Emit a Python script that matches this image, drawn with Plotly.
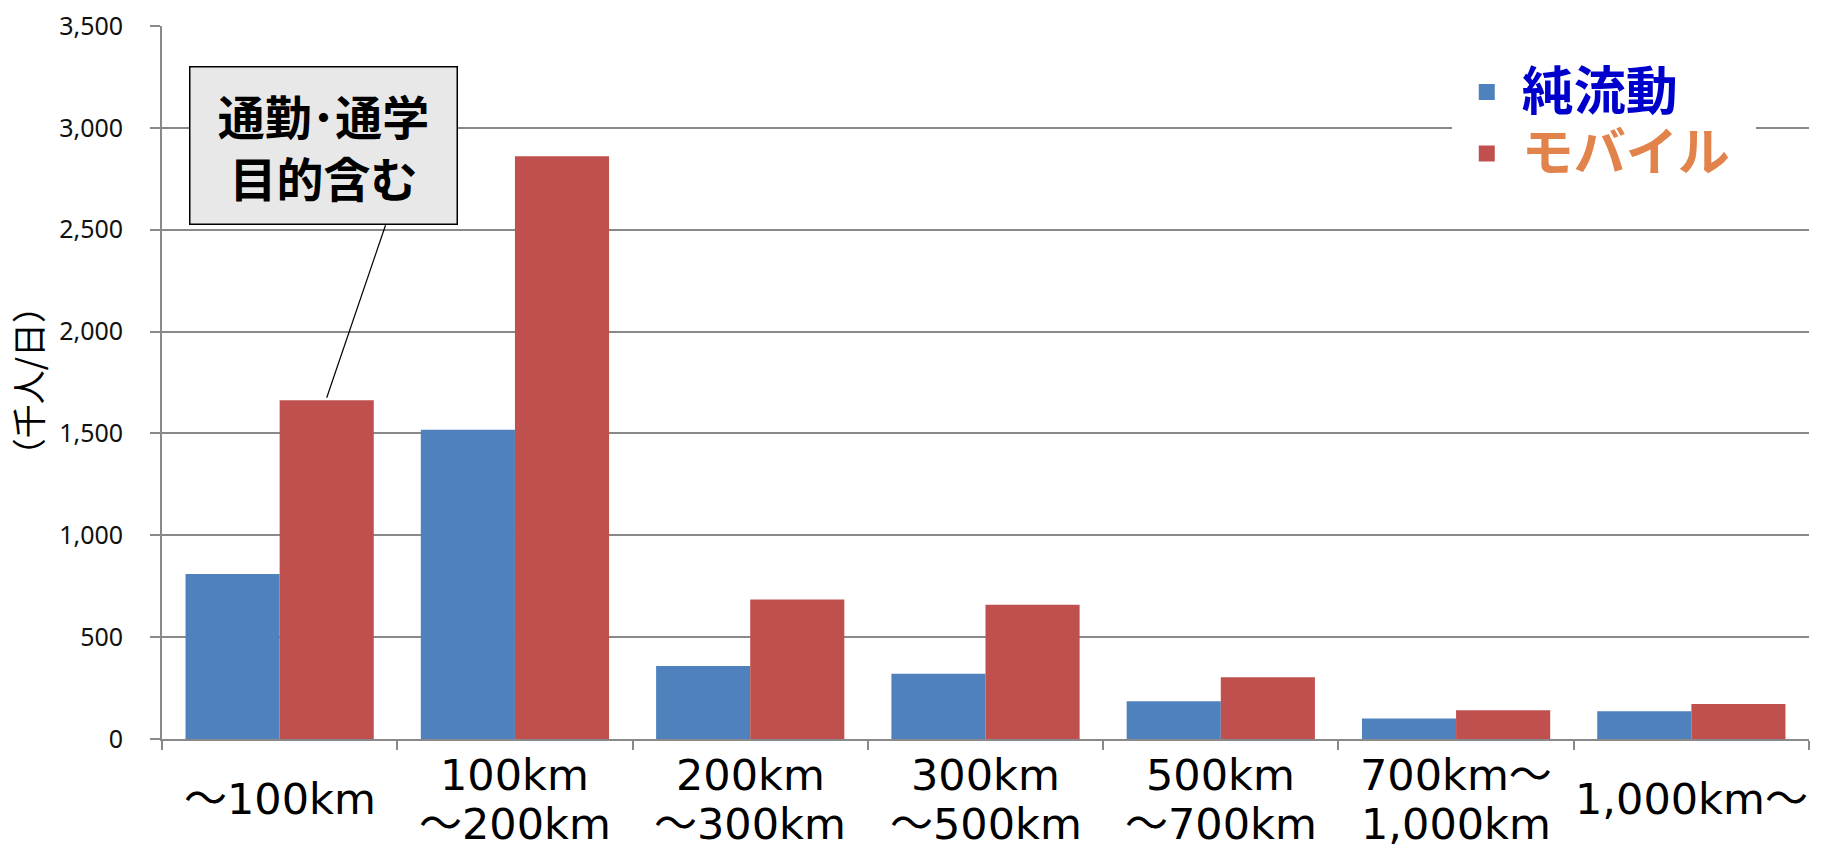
import plotly.graph_objects as go

# Daily trips by distance band (thousand persons / day)
categories = ["～100km", "100km\n～200km", "200km\n～300km", "300km\n～500km",
              "500km\n～700km", "700km～\n1,000km", "1,000km～"]
net_flow = [810, 1518, 358, 320, 185, 101, 136]      # 純流動
mobile = [1663, 2861, 685, 659, 303, 141, 172]       # モバイル
series_names = ["純流動", "モバイル"]
y_ticks = [0, 500, 1000, 1500, 2000, 2500, 3000, 3500]
y_title = "（千人/日）"
callout_text = "通勤･通学\n目的含む"

BLUE = "#4F81BD"
RED = "#C0504D"
BLUE_TEXT = "#0000CC"
ORANGE_TEXT = "#E1834B"
GRID = "#898989"
JP = "Noto Sans CJK JP"
LATIN = "Noto Sans, Noto Sans CJK JP"
LABEL_FONT = "DejaVu Sans, Noto Sans CJK JP"
LABEL_LINE_PITCH = 49  # px between lines of a category label

fig = go.Figure()

fig.add_trace(go.Bar(x=categories, y=net_flow, name=series_names[0],
                     marker=dict(color=BLUE, line=dict(width=0)),
                     showlegend=False))
fig.add_trace(go.Bar(x=categories, y=mobile, name=series_names[1],
                     marker=dict(color=RED, line=dict(width=0)),
                     showlegend=False))

# legend entries with larger square swatches and coloured labels
pad = "&nbsp;" * 2
for name, swatch, txt in [(series_names[0], BLUE, BLUE_TEXT),
                          (series_names[1], RED, ORANGE_TEXT)]:
    fig.add_trace(go.Scatter(
        x=[None], y=[None], mode="markers",
        marker=dict(symbol="square", size=18, color=swatch),
        name=f'<span style="color:{txt};font-size:52px"><b>{name}</b></span>{pad}',
        showlegend=True))

annotations = []
# category labels under each group, one annotation per line, block centred
for i, c in enumerate(categories):
    lines = c.split("\n")
    n = len(lines)
    for j, line in enumerate(lines):
        annotations.append(dict(
            x=i, xref="x", y=-0.0842, yref="paper",
            yshift=-(j - (n - 1) / 2) * LABEL_LINE_PITCH,
            text=line, showarrow=False,
            xanchor="center", yanchor="middle",
            font=dict(family=LABEL_FONT, size=43, color="#000000")))

# vertical axis unit label
annotations.append(dict(
    x=-0.082, xref="paper", y=0.503, yref="paper",
    text=y_title, textangle=-90, showarrow=False,
    xanchor="center", yanchor="middle",
    font=dict(family=JP, size=34, color="#000000")))

# callout box
box_x, box_y = 0.185, 2912
annotations.append(dict(
    x=box_x, xref="x", y=box_y, yref="y",
    text="<br>".join(f"<b>{t}</b>" for t in callout_text.split("\n")),
    showarrow=False, xanchor="center", yanchor="middle",
    width=266, height=156, borderpad=0,
    bgcolor="#E8E8E8", bordercolor="#000000", borderwidth=1.5,
    font=dict(family=JP, size=47, color="#000000")))

# leader line from the callout to the first モバイル bar
shapes = [dict(type="line", xref="x", yref="y",
               x0=0.45, y0=2522, x1=0.2, y1=mobile[0] + 12,
               line=dict(color="#000000", width=1.2))]

fig.update_layout(
    width=1822, height=844,
    margin=dict(l=162, r=13, t=26, b=105, autoexpand=False),
    paper_bgcolor="#FFFFFF", plot_bgcolor="#FFFFFF",
    barmode="group", bargap=0.2, bargroupgap=0,
    annotations=annotations, shapes=shapes,
    legend=dict(
        x=0.7831, xanchor="left", y=0.9575, yanchor="top",
        bgcolor="#FFFFFF", borderwidth=0,
        font=dict(family=JP, size=45),
        itemwidth=60, tracegroupgap=0),
    xaxis=dict(
        type="category", range=[-0.5, len(categories) - 0.5],
        showline=True, linecolor=GRID, linewidth=1.8,
        ticks="outside", tickson="boundaries", ticklen=9,
        tickcolor=GRID, tickwidth=1.8, automargin=False,
        showticklabels=False, showgrid=False),
    yaxis=dict(
        range=[0, 3500], tickvals=y_ticks,
        ticktext=[f"{v:,}" for v in y_ticks],
        showgrid=True, gridcolor=GRID, gridwidth=1.8,
        showline=True, linecolor=GRID, linewidth=1.8,
        ticks="outside", ticklen=10, tickcolor=GRID, tickwidth=1.8,
        ticklabelstandoff=22, zeroline=False, automargin=False,
        tickfont=dict(family=LATIN, size=25, color="#111111")),
)

fig.write_html("out.html")
